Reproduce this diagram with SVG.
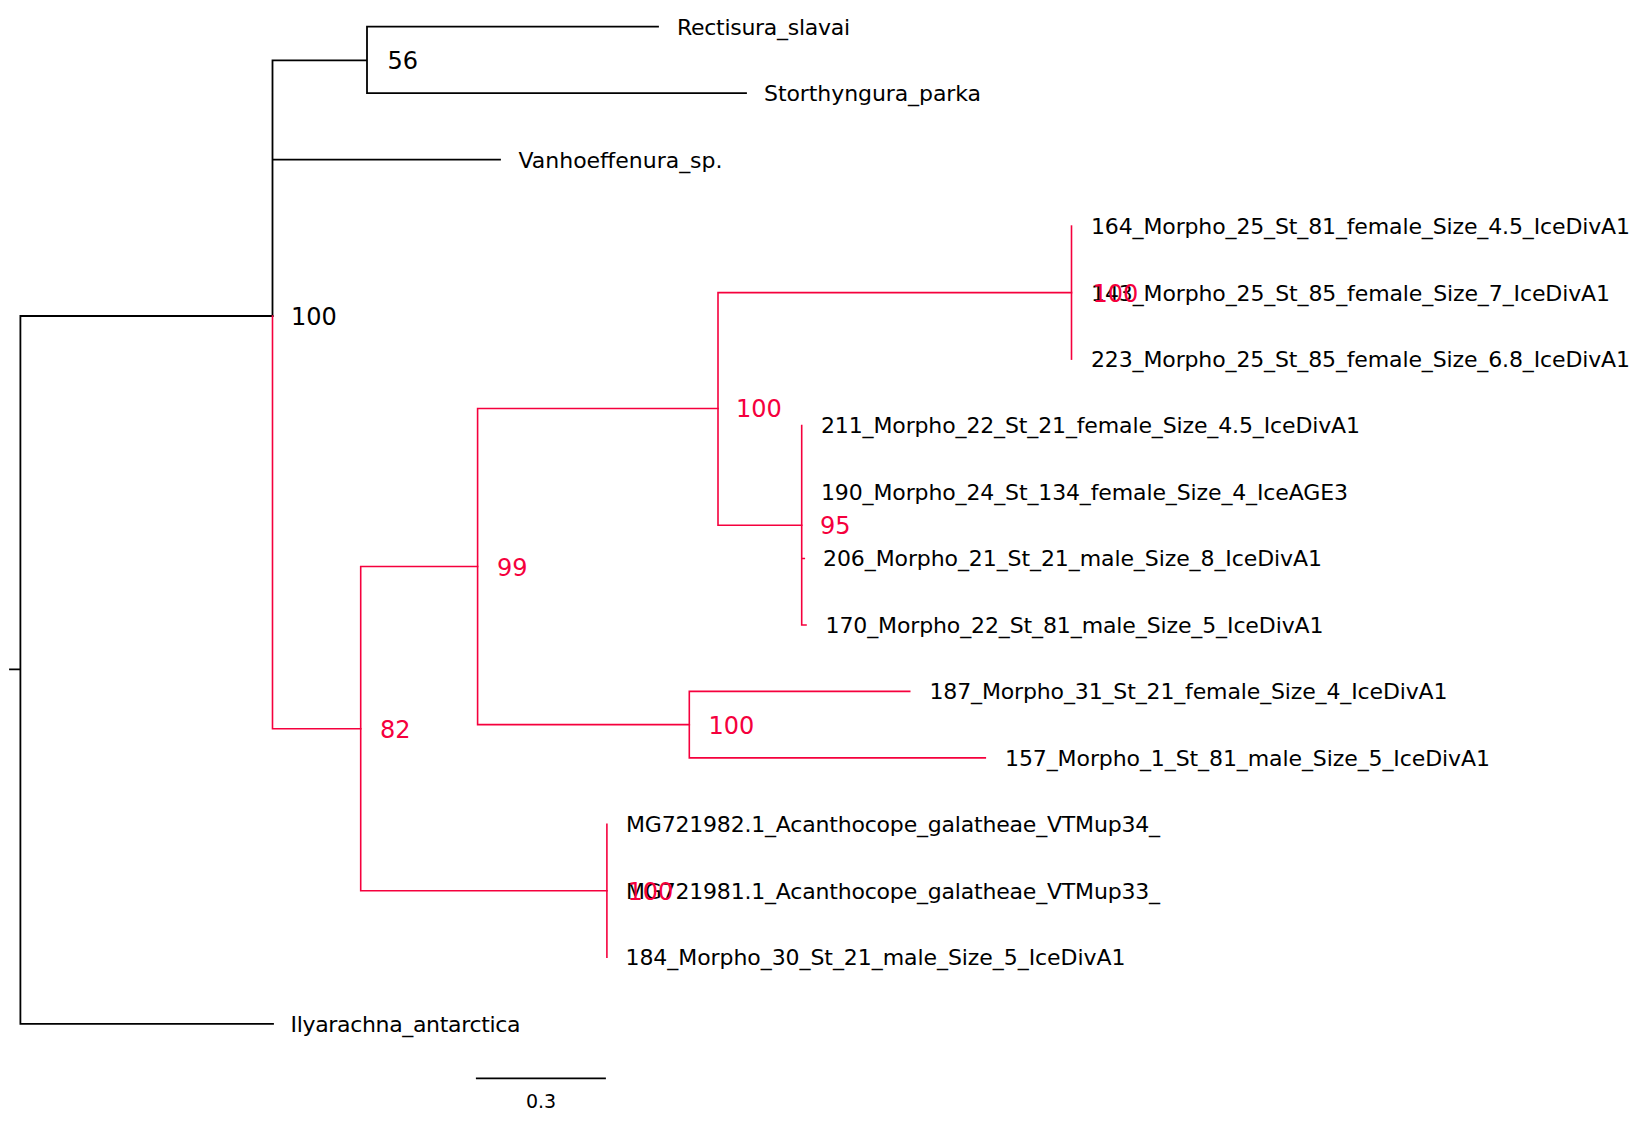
<svg xmlns="http://www.w3.org/2000/svg" width="1638" height="1122" viewBox="0 0 1638 1122">
  <style>
    .bk { stroke: #000000; stroke-width: 1.8; fill: none; stroke-linecap: square; }
    .rd { stroke: #f5003d; stroke-width: 1.6; fill: none; stroke-linecap: square; }
    .tip { font-family: "DejaVu Sans", "Liberation Sans", sans-serif; font-size: 22px; fill: #000000; }
    .sup { font-family: "DejaVu Sans", "Liberation Sans", sans-serif; font-size: 24px; }
    .supk { fill: #000000; }
    .supr { fill: #f5003d; }
    .scale { font-family: "DejaVu Sans", "Liberation Sans", sans-serif; font-size: 19px; fill: #000000; }
  </style>
  <rect width="1638" height="1122" fill="#ffffff"/>

  <!-- branches -->
  <g id="connectors">
    <!-- root -->
    <path class="bk" d="M10,669.3 H20.4 M20.4,316 V1023.8 M20.4,316 H272.5 M20.4,1023.8 H273"/>
    <!-- outgroup clade -->
    <path class="bk" d="M272.5,60.3 V316 M272.5,60.3 H367 M367,26.7 V93.2 M367,26.7 H658 M367,93.2 H746 M272.5,159.6 H500"/>
    <!-- ingroup clade -->
    <path class="rd" d="M272.5,316 V728.7 M272.5,728.7 H360.7"/>
    <path class="rd" d="M360.7,566.5 V890.8 M360.7,566.5 H477.6 M360.7,890.8 H606.9"/>
    <path class="rd" d="M477.6,408.5 V724.6 M477.6,408.5 H718 M477.6,724.6 H689.3"/>
    <path class="rd" d="M718,292.6 V525.2 M718,292.6 H1071.5 M718,525.2 H801.7"/>
    <path class="rd" d="M1071.5,226.1 V359.1"/>
    <path class="rd" d="M801.7,425.5 V625 M801.7,558.5 H804.3 M801.7,625 H806"/>
    <path class="rd" d="M689.3,691.4 V757.9 M689.3,691.4 H909.7 M689.3,757.9 H985.3"/>
    <path class="rd" d="M606.9,824.4 V957.3"/>
  </g>

  <!-- tips -->
  <g id="tip-rectisura"><text class="tip" x="677" y="34.5" textLength="173">Rectisura_slavai</text></g>
  <g id="tip-storthyngura"><text class="tip" x="764" y="101" textLength="217">Storthyngura_parka</text></g>
  <g id="tip-vanhoeffenura"><text class="tip" x="518.5" y="167.5" textLength="204">Vanhoeffenura_sp.</text></g>
  <g id="tip-164"><text class="tip" x="1091" y="234" textLength="539">164_Morpho_25_St_81_female_Size_4.5_IceDivA1</text></g>
  <g id="tip-143"><text class="tip" x="1091" y="300.5" textLength="519">143_Morpho_25_St_85_female_Size_7_IceDivA1</text></g>
  <g id="tip-223"><text class="tip" x="1091" y="367" textLength="539">223_Morpho_25_St_85_female_Size_6.8_IceDivA1</text></g>
  <g id="tip-211"><text class="tip" x="821" y="433" textLength="539">211_Morpho_22_St_21_female_Size_4.5_IceDivA1</text></g>
  <g id="tip-190"><text class="tip" x="821" y="499.5" textLength="527">190_Morpho_24_St_134_female_Size_4_IceAGE3</text></g>
  <g id="tip-206"><text class="tip" x="823" y="566" textLength="499">206_Morpho_21_St_21_male_Size_8_IceDivA1</text></g>
  <g id="tip-170"><text class="tip" x="825.5" y="632.5" textLength="498">170_Morpho_22_St_81_male_Size_5_IceDivA1</text></g>
  <g id="tip-187"><text class="tip" x="929.5" y="699" textLength="518">187_Morpho_31_St_21_female_Size_4_IceDivA1</text></g>
  <g id="tip-157"><text class="tip" x="1005" y="765.5" textLength="485">157_Morpho_1_St_81_male_Size_5_IceDivA1</text></g>
  <g id="tip-mg721982"><text class="tip" x="626" y="832" textLength="534">MG721982.1_Acanthocope_galatheae_VTMup34_</text></g>
  <g id="tip-mg721981"><text class="tip" x="626" y="898.5" textLength="534">MG721981.1_Acanthocope_galatheae_VTMup33_</text></g>
  <g id="tip-184"><text class="tip" x="625.5" y="965" textLength="500">184_Morpho_30_St_21_male_Size_5_IceDivA1</text></g>
  <g id="tip-ilyarachna"><text class="tip" x="290.5" y="1031.5" textLength="230">Ilyarachna_antarctica</text></g>

  <!-- support values -->
  <g id="node-56"><text class="sup supk" x="387.5" y="69.3">56</text></g>
  <g id="node-root-ingroup"><text class="sup supk" x="291" y="325">100</text></g>
  <g id="node-82"><text class="sup supr" x="380" y="737.5">82</text></g>
  <g id="node-99"><text class="sup supr" x="497" y="575.7">99</text></g>
  <g id="node-100-upper"><text class="sup supr" x="736" y="417.3">100</text></g>
  <g id="node-100-lower"><text class="sup supr" x="708.5" y="733.5">100</text></g>
  <g id="node-95"><text class="sup supr" x="820" y="534">95</text></g>
  <g id="node-100-morpho25"><text class="sup supr" x="1092.5" y="301.6">100</text></g>
  <g id="node-100-acanthocope"><text class="sup supr" x="627.5" y="899.8">100</text></g>

  <!-- scale bar -->
  <g id="scale-bar">
    <line class="bk" x1="476.8" y1="1078.3" x2="605" y2="1078.3" stroke-linecap="butt"/>
    <text class="scale" x="541" y="1107.7" text-anchor="middle">0.3</text>
  </g>
</svg>
